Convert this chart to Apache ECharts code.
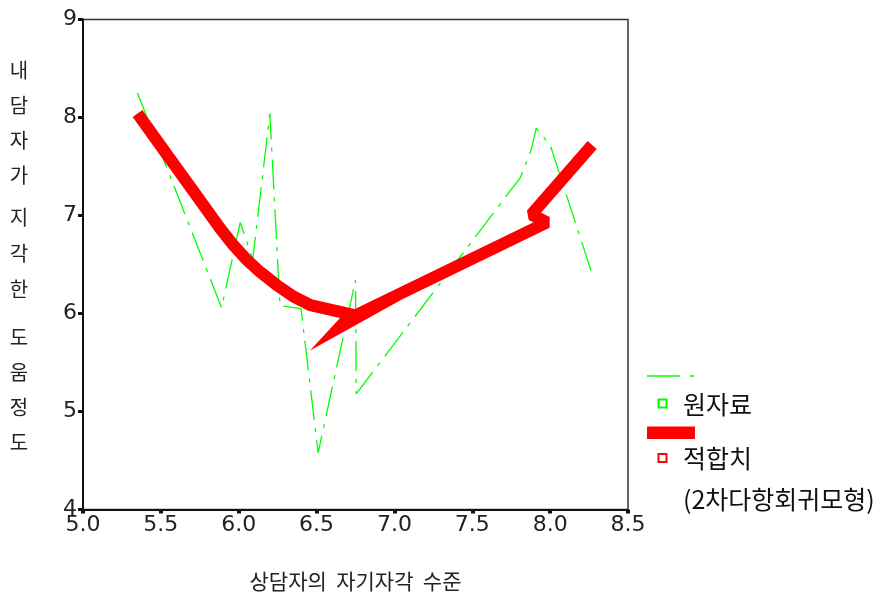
<!DOCTYPE html>
<html>
<head>
<meta charset="utf-8">
<script src="https://cdn.jsdelivr.net/npm/echarts@6/dist/echarts.min.js"></script>
<style>
html,body{margin:0;padding:0;background:#fff;}
#chart{width:885px;height:600px;}
</style>
</head>
<body>
<div id="chart"></div>
<script>
// ---- data ----
const xTicks = [5.0, 5.5, 6.0, 6.5, 7.0, 7.5, 8.0, 8.5];
const yTicks = [4, 5, 6, 7, 8, 9];

// raw data (원자료)
const rawX = [5.35, 5.89, 6.01, 6.09, 6.20, 6.265, 6.40, 6.51, 6.75, 6.755, 7.81, 7.88, 7.91, 8.00, 8.27];
const rawY = [8.25, 6.06, 6.93, 6.55, 8.04, 6.08, 6.05, 4.58, 6.34, 5.18, 7.39, 7.68, 7.89, 7.72, 6.40];

// fitted values (적합치, quadratic regression), in plotted order
const fitX = [5.35, 5.54, 5.67, 5.79, 5.88, 5.965, 6.05, 6.14, 6.24, 6.35, 6.46, 6.75, 7.98, 7.88, 8.27];
const fitY = [8.04, 7.62, 7.335, 7.07, 6.87, 6.70, 6.55, 6.42, 6.295, 6.175, 6.085, 5.98, 6.93, 7.01, 7.72];

// spike drawn by the original fitted line at x = 6.75
const fitSpikeX = [6.458, 6.683, 7.036];
const fitSpikeY = [5.622, 6.010, 6.133];

const xTitle = '상담자의  자기자각  수준';
const yTitleWords = ['내담자가', '지각한', '도움정도'];
const legendRaw = '원자료';
const legendFit = '적합치';
const legendFitNote = '(2차다항회귀모형)';

// ---- chart ----
const rawData = rawX.map((x, i) => [x, rawY[i]]);
const fitData = fitX.map((x, i) => [x, fitY[i]]);
const spikePts = fitSpikeX.map((x, i) => [x, fitSpikeY[i]]);

const numFont = 'DejaVu Sans';
const korFont = '"Noto Sans CJK KR", "Noto Sans", sans-serif';

const chart = echarts.init(document.getElementById('chart'), null, {renderer: 'canvas'});

const ySpacing = [35, 36, 35];
const yTops = [53, 199, 320];

const graphics = [];
yTitleWords.forEach((w, i) => {
  graphics.push({
    type: 'text', x: 19, y: yTops[i], z: 10,
    style: {
      text: w.split('').join('\n'),
      font: '20px ' + korFont, fill: '#222',
      align: 'center', verticalAlign: 'top', lineHeight: ySpacing[i]
    }
  });
});
graphics.push(
  {type: 'line', shape: {x1: 647, y1: 376, x2: 695, y2: 376},
   style: {stroke: '#00ff00', lineWidth: 1.5, lineDash: [33, 10, 4, 10]}},
  {type: 'rect', shape: {x: 658.5, y: 399.5, width: 8, height: 8},
   style: {stroke: '#00ff00', lineWidth: 2, fill: '#fff'}},
  {type: 'text', x: 683, y: 404, style: {text: legendRaw, font: '25px ' + korFont, fill: '#111', verticalAlign: 'middle'}},
  {type: 'rect', shape: {x: 647, y: 426.5, width: 48, height: 12.5}, style: {fill: '#ff0000'}},
  {type: 'rect', shape: {x: 658.5, y: 454, width: 8, height: 8},
   style: {stroke: '#ff0000', lineWidth: 2, fill: '#fff'}},
  {type: 'text', x: 683, y: 458, style: {text: legendFit, font: '25px ' + korFont, fill: '#111', verticalAlign: 'middle'}},
  {type: 'text', x: 683, y: 499, style: {text: legendFitNote, font: '25px ' + korFont, fill: '#111', verticalAlign: 'middle'}}
);

const option = {
  backgroundColor: '#fff',
  animation: false,
  grid: {left: 83, right: 257, top: 19.5, bottom: 90.5, show: true, borderColor: '#333', borderWidth: 1.5, backgroundColor: 'transparent'},
  xAxis: {
    type: 'value', min: xTicks[0], max: xTicks[xTicks.length - 1], interval: 0.5,
    splitLine: {show: false},
    axisLine: {show: true, onZero: false, lineStyle: {color: '#111', width: 2}},
    axisTick: {show: true, inside: false, length: 4, lineStyle: {color: '#111', width: 4}},
    axisLabel: {fontFamily: numFont, fontSize: 22, color: '#222', margin: 5,
      formatter: v => v.toFixed(1), showMinLabel: true, showMaxLabel: true},
    name: xTitle, nameLocation: 'middle', nameGap: 61,
    nameTextStyle: {fontFamily: korFont, fontSize: 21, color: '#222'}
  },
  yAxis: {
    type: 'value', min: yTicks[0], max: yTicks[yTicks.length - 1], interval: 1,
    splitLine: {show: false},
    axisLine: {show: true, onZero: false, lineStyle: {color: '#111', width: 2}},
    axisTick: {show: true, inside: false, length: 5, lineStyle: {color: '#111', width: 3}},
    axisLabel: {fontFamily: numFont, fontSize: 22, color: '#222', margin: 6,
      showMinLabel: true, showMaxLabel: true}
  },
  graphic: graphics,
  series: [
    {
      name: legendRaw, type: 'line', data: rawData, showSymbol: false, silent: true, z: 2,
      lineStyle: {color: '#00ff00', width: 1.3, type: [30, 8, 4, 8]}
    },
    {
      name: legendFit, type: 'line', data: fitData, showSymbol: false, silent: true, z: 3,
      lineStyle: {color: '#ff0000', width: 12, cap: 'butt', join: 'bevel'}
    },
    {
      name: legendFit + '_spike', type: 'custom', data: [0], silent: true, z: 3,
      renderItem: (params, api) => ({
        type: 'polygon',
        shape: {points: spikePts.map(p => api.coord(p))},
        style: {fill: '#ff0000'}
      })
    }
  ]
};
chart.setOption(option);
</script>
</body>
</html>
